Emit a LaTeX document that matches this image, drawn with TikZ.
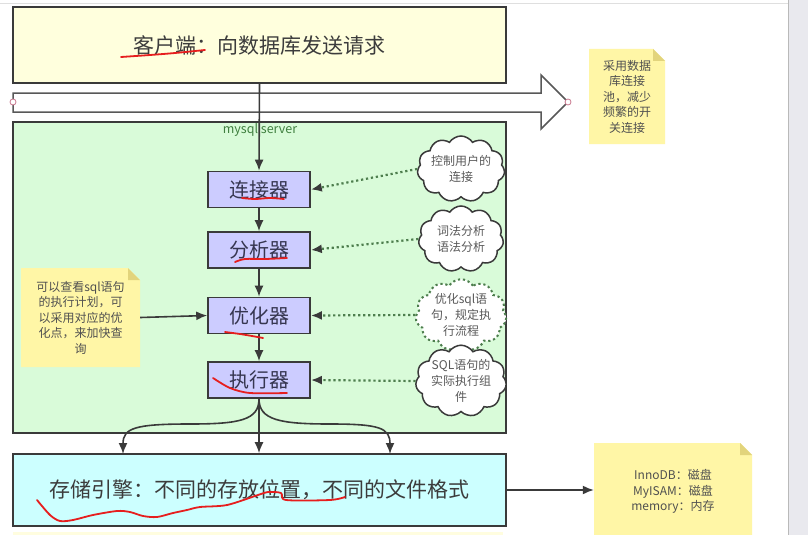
\documentclass[tikz,border=0pt]{standalone}
\usepackage{fontspec}
\setmainfont{Noto Sans CJK SC}
\usetikzlibrary{shapes.symbols,arrows.meta,calc}
\definecolor{linegray}{HTML}{3A3A3A}
\definecolor{clientfill}{HTML}{FFFFDD}
\definecolor{serverfill}{HTML}{D9FBD9}
\definecolor{boxfill}{HTML}{CCCCFF}
\definecolor{storefill}{HTML}{CCFFFF}
\definecolor{notebg}{HTML}{FFF6A6}
\definecolor{notefoldc}{HTML}{E2D47C}
\definecolor{txtgray}{HTML}{3C3C3C}
\definecolor{dotgreen}{HTML}{4E7E4E}
\definecolor{labelgreen}{HTML}{3F7F3F}
\definecolor{redmark}{HTML}{E61E1E}
\definecolor{pinkc}{HTML}{C9788E}
\definecolor{barbg}{HTML}{E9E9EE}
\definecolor{stripc}{HTML}{FFFDDF}

\newcommand\stickynote[6]{%
  \fill[notebg] ({#2-#4/2},{#3-#5/2}) -- ({#2+#4/2-12},{#3-#5/2}) -- ({#2+#4/2},{#3-#5/2+12}) -- ({#2+#4/2},{#3+#5/2}) -- ({#2-#4/2},{#3+#5/2}) -- cycle;
  \fill[notefoldc] ({#2+#4/2-12},{#3-#5/2}) -- ({#2+#4/2-12},{#3-#5/2+12}) -- ({#2+#4/2},{#3-#5/2+12}) -- cycle;
  \node[notetext, minimum width=#4pt, minimum height=#5pt] (#1) at (#2,#3) {#6};
}

\tikzset{
  bigbox/.style={draw=linegray, line width=1.6pt, inner sep=0pt, text=txtgray},
  stepbox/.style={draw=linegray, line width=1.6pt, fill=boxfill, inner sep=0pt,
    minimum width=102pt, minimum height=36pt, text=txtgray!90!blue,
    font=\fontsize{20}{24}\selectfont},
  cloudnode/.style={cloud, cloud puffs=11, cloud puff arc=115, cloud ignores aspect,
    draw=linegray, line width=1.5pt, fill=white, inner sep=0pt,
    minimum width=85pt, minimum height=66pt, align=center, text=txtgray!85,
    font=\fontsize{12}{16}\selectfont},
  notetext/.style={inner sep=0pt, align=center, text=txtgray!90,
    font=\fontsize{12}{15.5}\selectfont},
  arr/.style={draw=linegray, line width=1.6pt, -{Latex[length=11pt,width=9pt]}},
  greendots/.style={draw=dotgreen, line width=2.2pt, dash pattern=on 2.2pt off 2.8pt},
  dotarr/.style={greendots, -{Latex[length=11pt,width=9pt,color=linegray]}},
  scribble/.style={draw=redmark, line width=1.8pt, line cap=round, line join=round}
}

\begin{document}
\begin{tikzpicture}[x=1pt,y=-1pt]
\useasboundingbox (0,0) rectangle (808,535);
\fill[white] (0,0) rectangle (808,535);
\draw[gray!25, line width=0.8pt] (0,3) -- (788,3);
\fill[barbg] (788,0) rectangle (808,535);
\draw[gray!55, line width=1pt] (788,0) -- (788,535);
\fill[stripc] (13,532) rectangle (503,535);

% client
\node[bigbox, fill=clientfill, minimum width=493pt, minimum height=76pt,
  font=\fontsize{21}{25}\selectfont] (client) at (259.5,45) {客户端：向数据库发送请求};

% big connection arrow
\draw[fill=white, draw=linegray!85, line width=1.5pt]
  (13,93) -- (541,93) -- (541,75) -- (568,102) -- (541,129) -- (541,112) -- (13,112) -- cycle;
\draw[pinkc, fill=white, line width=0.8pt] (13,102) circle (3);
\draw[pinkc, fill=white, line width=0.8pt] (568,102) circle (3);

% server container
\node[bigbox, fill=serverfill, minimum width=493pt, minimum height=311pt] (server) at (259.5,277.5) {};
\node[text=labelgreen, font=\fontsize{12.5}{14}\selectfont, inner sep=0pt] (srvlabel) at (260,130) {mysql server};

% steps
\node[stepbox] (conn) at (259,189.5) {连接器};
\node[stepbox] (ana) at (259,250) {分析器};
\node[stepbox] (opt) at (259,315.5) {优化器};
\node[stepbox] (exe) at (259,380) {执行器};

% clouds
\node[cloudnode] (c1) at (461,169) {控制用户的\\连接};
\node[cloudnode] (c2) at (461,239) {词法分析\\语法分析};
\node[cloudnode, greendots, line width=2pt] (c3) at (461,315) {优化sql语\\句，规定执\\行流程};
\node[cloudnode] (c4) at (461,381) {SQL语句的\\实际执行组\\件};

% storage
\node[bigbox, fill=storefill, minimum width=493pt, minimum height=72pt,
  font=\fontsize{21}{25}\selectfont] (store) at (259.5,490) {存储引擎：不同的存放位置，不同的文件格式};

% notes
\stickynote{topnote}{627}{96.5}{76}{95}{采用数据\\库连接\\池，减少\\频繁的开\\关连接}
\stickynote{leftnote}{80.5}{317.5}{119}{99}{可以查看sql语句\\的执行计划，可\\以采用对应的优\\化点，来加快查\\询}
\stickynote{enginenote}{673}{491.5}{158}{97}{InnoDB：磁盘\\MyISAM：磁盘\\memory：内存}

% connectors
\draw[arr] (client.south) -- (conn.north);
\draw[arr] (conn.south) -- (ana.north);
\draw[arr] (ana.south) -- (opt.north);
\draw[arr] (opt.south) -- (exe.north);
\draw[arr] (leftnote.east) -- (opt.west);
\draw[dotarr] (c1.west) -- (conn.east);
\draw[dotarr] (c2.west) -- (ana.east);
\draw[dotarr] (c3.west) -- (opt.east);
\draw[dotarr] (c4.west) -- (exe.east);

\coordinate (sL) at (123,454);
\coordinate (sR) at (390,454);
\draw[arr] (exe.south) .. controls (259,420) and (240,424) .. (190,424)
  .. controls (135,424) and (123,428) .. (sL);
\draw[arr] (exe.south) -- (exe.south |- store.north);
\draw[arr] (exe.south) .. controls (259,420) and (280,424) .. (330,424)
  .. controls (380,424) and (390,428) .. (sR);
\draw[arr] (store.east) -- (enginenote.west |- store.east);

% red hand marks
\draw[scribble] plot[smooth] coordinates {(121,57) (150,55) (175,53) (205,50)};
\draw[scribble] plot[smooth] coordinates {(242,198) (255,199) (270,198) (284,199)};
\draw[scribble] plot[smooth] coordinates {(235,262) (245,259) (265,259) (287,258)};
\draw[scribble] plot[smooth] coordinates {(225,332) (240,334) (252,336) (263,338)};
\draw[scribble] plot[smooth] coordinates {(213,378) (230,388) (250,393) (287,393)};
\draw[scribble] plot[smooth] coordinates {(37,500) (50,515) (60,521) (73,520) (93,515)
  (117,511) (130,512) (143,516) (157,517) (173,513) (187,510) (200,507) (227,505)
  (258,495) (268,492) (281,493) (286,500) (330,500) (345,497)};
\end{tikzpicture}
\end{document}
